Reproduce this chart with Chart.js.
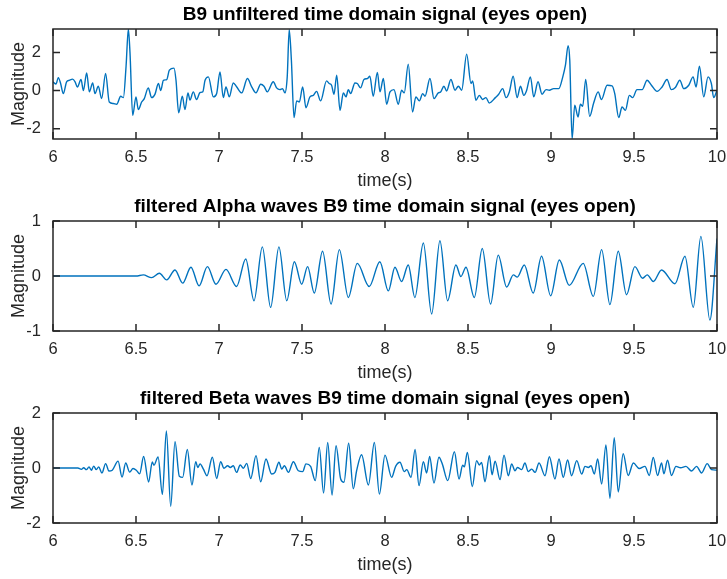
<!DOCTYPE html>
<html>
<head>
<meta charset="utf-8">
<script src="https://cdn.jsdelivr.net/npm/chart.js@4.4.1/dist/chart.umd.min.js"></script>
<style>
  body { margin: 0; background: #fff; }
  #wrap { position: relative; width: 727px; height: 579px; }
  canvas { position: absolute; left: 0; }
</style>
</head>
<body>
<div id="wrap">
  <canvas id="c1" width="727" height="192" style="top:1px"></canvas>
  <canvas id="c2" width="727" height="192" style="top:193px"></canvas>
  <canvas id="c3" width="727" height="192" style="top:385px"></canvas>
</div>
<script>
// tick labels
const xTicks = [6, 6.5, 7, 7.5, 8, 8.5, 9, 9.5, 10];
const yTicksRaw = [-2, 0, 2];
const yTicksAlpha = [-1, 0, 1];
const yTicksBeta = [-2, 0, 2];

const titles = [
  'B9 unfiltered time domain signal (eyes open)',
  'filtered Alpha waves B9 time domain signal (eyes open)',
  'filtered Beta waves B9 time domain signal (eyes open)'
];

// unfiltered signal (peaks / troughs)
const rawTime = [6.000, 6.018, 6.032, 6.046, 6.062, 6.082, 6.098, 6.118, 6.133, 6.147, 6.169, 6.183, 6.203, 6.219, 6.239, 6.253,
  6.273, 6.293, 6.317, 6.339, 6.363, 6.384, 6.408, 6.424, 6.440, 6.454, 6.464, 6.480, 6.500, 6.514, 6.534, 6.550,
  6.574, 6.594, 6.614, 6.635, 6.649, 6.665, 6.685, 6.701, 6.729, 6.741, 6.757, 6.779, 6.795, 6.813, 6.825, 6.845,
  6.865, 6.886, 6.902, 6.916, 6.936, 6.966, 6.986, 7.006, 7.026, 7.042, 7.062, 7.086, 7.106, 7.137, 7.171, 7.197,
  7.223, 7.251, 7.271, 7.291, 7.327, 7.347, 7.367, 7.383, 7.397, 7.411, 7.423, 7.436, 7.452, 7.468, 7.484, 7.504,
  7.524, 7.548, 7.568, 7.588, 7.612, 7.648, 7.664, 7.678, 7.693, 7.709, 7.729, 7.749, 7.765, 7.779, 7.793, 7.819,
  7.833, 7.853, 7.873, 7.893, 7.909, 7.929, 7.954, 7.970, 7.990, 8.010, 8.030, 8.054, 8.080, 8.100, 8.116, 8.140,
  8.166, 8.186, 8.207, 8.227, 8.241, 8.271, 8.295, 8.321, 8.335, 8.355, 8.371, 8.397, 8.422, 8.442, 8.462, 8.492,
  8.518, 8.528, 8.548, 8.568, 8.588, 8.608, 8.628, 8.665, 8.685, 8.709, 8.729, 8.749, 8.772, 8.796, 8.816, 8.836,
  8.852, 8.876, 8.896, 8.922, 8.946, 8.970, 8.990, 9.016, 9.047, 9.071, 9.087, 9.103, 9.113, 9.127, 9.143, 9.163,
  9.177, 9.191, 9.209, 9.233, 9.257, 9.284, 9.304, 9.338, 9.368, 9.384, 9.408, 9.428, 9.448, 9.472, 9.492, 9.518,
  9.549, 9.579, 9.605, 9.639, 9.669, 9.699, 9.725, 9.749, 9.776, 9.800, 9.830, 9.856, 9.874, 9.894, 9.920, 9.946,
  9.966, 9.980, 10.000];
const rawMag = [0.46, 0.34, 0.68, 0.37, -0.16, 0.46, 0.54, 0.60, 0.46, 0.19, 0.58, 0.00, 0.93, -0.07, 0.40, -0.16,
  0.23, -0.42, 0.90, -0.60, -0.68, -0.72, -0.30, -0.37, 1.25, 3.23, 1.95, -1.30, -0.33, -1.00, -0.60, -0.42,
  0.14, -0.37, -0.20, 0.37, 0.00, 0.54, 0.58, 1.07, 1.18, 0.54, -1.17, -0.30, -1.00, -0.12, -0.50, -0.07,
  -0.47, -0.10, -0.07, 0.54, 0.72, -0.33, -0.15, 0.98, -0.37, 0.19, -0.33, 0.40, 0.20, -0.12, 0.63, 0.20,
  -0.12, 0.33, 0.23, -0.07, 0.46, 0.14, 0.05, 0.10, -0.12, 0.72, 3.20, 1.60, -1.42, -0.54, -0.60, 0.19,
  -0.90, -0.33, -0.25, -0.04, -0.54, 0.51, 0.37, 0.28, -0.19, 0.81, -1.04, -0.12, -0.33, 0.05, -0.16, 0.40,
  0.37, 0.14, 0.58, 0.63, 0.75, -0.30, 0.95, -0.07, 0.63, -0.72, -0.07, 0.05, -0.72, 0.02, -0.12, 1.39,
  -1.12, -0.33, -0.54, -0.16, -0.30, 0.63, -0.42, -0.12, -0.07, 0.23, -0.02, 0.58, 0.02, 0.23, 0.02, 1.91,
  0.37, 0.51, -0.51, -0.25, -0.47, -0.37, -0.65, -0.37, -0.19, 0.10, -0.37, -0.07, 0.75, -0.37, 0.23, -0.25,
  -0.02, 0.72, -0.33, 0.46, -0.19, 0.05, 0.02, 0.10, 0.10, 0.72, 1.33, 2.35, 1.60, -2.54, -0.77, -1.39,
  -0.72, -0.82, 0.58, -1.35, -0.65, -0.07, -0.47, 0.28, 0.25, -0.16, -1.42, -0.86, -1.04, -0.25, -0.37, 0.05,
  0.05, 0.54, 0.28, -0.04, 0.19, 0.58, 0.05, 0.16, 0.54, 0.10, 0.28, 0.72, 0.19, 1.28, -0.33, 0.72,
  0.37, -0.37, 0.02];

// alpha band
const alphaTime = [6.000, 6.500, 6.544, 6.594, 6.641, 6.685, 6.735, 6.781, 6.831, 6.880, 6.930, 6.982, 7.042, 7.106, 7.161, 7.211,
  7.261, 7.311, 7.361, 7.408, 7.454, 7.498, 7.534, 7.574, 7.624, 7.675, 7.725, 7.779, 7.833, 7.905, 7.969, 8.020,
  8.060, 8.100, 8.140, 8.180, 8.231, 8.281, 8.331, 8.377, 8.427, 8.457, 8.488, 8.538, 8.586, 8.636, 8.682, 8.733,
  8.773, 8.797, 8.839, 8.893, 8.943, 8.998, 9.050, 9.110, 9.194, 9.255, 9.305, 9.355, 9.405, 9.455, 9.505, 9.552,
  9.580, 9.616, 9.666, 9.747, 9.807, 9.857, 9.903, 9.957, 10.000];
const alphaMag = [0, 0, 0.02, -0.03, 0.05, -0.07, 0.11, -0.13, 0.16, -0.18, 0.17, -0.15, 0.12, -0.19, 0.31, -0.45,
  0.53, -0.57, 0.53, -0.45, 0.26, -0.15, 0.17, -0.31, 0.45, -0.51, 0.48, -0.39, 0.23, -0.19, 0.26, -0.27,
  0.16, -0.10, 0.20, -0.39, 0.60, -0.69, 0.64, -0.45, 0.20, -0.01, 0.16, -0.39, 0.50, -0.51, 0.38, -0.20,
  0.02, -0.02, 0.20, -0.31, 0.36, -0.36, 0.29, -0.17, 0.23, -0.37, 0.48, -0.52, 0.45, -0.34, 0.17, -0.04,
  0.02, -0.10, 0.11, -0.14, 0.36, -0.57, 0.72, -0.80, 0.68];

// beta band
const betaTime = [6.000, 6.150, 6.171, 6.185, 6.201, 6.217, 6.231, 6.245,
  6.261, 6.275, 6.295, 6.317, 6.337, 6.357, 6.392, 6.416,
  6.438, 6.462, 6.482, 6.502, 6.522, 6.546, 6.576, 6.598,
  6.608, 6.633, 6.659, 6.683, 6.709, 6.735, 6.761, 6.781,
  6.809, 6.837, 6.860, 6.872, 6.886, 6.906, 6.928, 6.960,
  6.986, 7.010, 7.030, 7.052, 7.068, 7.086, 7.106, 7.128,
  7.147, 7.167, 7.191, 7.223, 7.251, 7.283, 7.317, 7.337,
  7.361, 7.378, 7.394, 7.418, 7.448, 7.478, 7.504, 7.524,
  7.552, 7.580, 7.604, 7.630, 7.655, 7.681, 7.705, 7.733,
  7.753, 7.781, 7.809, 7.829, 7.859, 7.900, 7.936, 7.966,
  8.000, 8.040, 8.064, 8.090, 8.116, 8.131, 8.157, 8.181,
  8.205, 8.231, 8.251, 8.269, 8.295, 8.325, 8.345, 8.378,
  8.418, 8.446, 8.468, 8.478, 8.496, 8.526, 8.552, 8.568,
  8.582, 8.602, 8.629, 8.645, 8.663, 8.693, 8.717, 8.743,
  8.763, 8.783, 8.798, 8.823, 8.843, 8.863, 8.884, 8.904,
  8.928, 8.964, 8.990, 9.024, 9.048, 9.074, 9.100, 9.124,
  9.155, 9.185, 9.205, 9.225, 9.241, 9.261, 9.281, 9.305,
  9.331, 9.355, 9.381, 9.405, 9.435, 9.465, 9.496, 9.532,
  9.566, 9.592, 9.616, 9.642, 9.666, 9.680, 9.702, 9.726,
  9.753, 9.781, 9.813, 9.847, 9.877, 9.907, 9.941, 9.967,
  10.000];
const betaMag = [0, 0, -0.05, 0.01, -0.06, 0.04, -0.08, 0.07,
  -0.06, 0.04, -0.18, 0.16, -0.11, -0.08, 0.25, -0.33,
  0.18, -0.15, -0.02, -0.08, -0.21, 0.42, -0.51, 0.22,
  0.10, 0.40, -0.96, 1.35, -1.39, 0.96, -0.30, -0.34,
  0.67, -0.62, 0.23, 0.02, 0.15, -0.04, -0.28, 0.39,
  -0.38, 0.23, -0.01, 0.08, 0.02, 0.08, -0.16, 0.11,
  -0.01, 0.17, -0.38, 0.45, -0.50, 0.33, -0.22, -0.16,
  0.21, -0.04, 0.08, -0.16, 0.23, -0.10, -0.13, 0.15,
  0.06, -0.46, 0.75, -0.91, 0.93, -0.98, 0.81, -0.40,
  -0.52, 0.90, -0.76, -0.10, 0.48, -0.62, 0.93, -0.95,
  0.47, -0.34, 0.06, 0.21, -0.13, -0.06, -0.34, 0.67,
  -0.64, 0.23, -0.18, 0.42, -0.55, 0.39, 0.15, -0.46,
  0.59, -0.40, 0.10, 0.04, 0.57, -0.67, 0.27, 0.11,
  0.20, -0.50, 0.45, -0.25, 0.25, -0.42, 0.47, -0.28,
  0.15, -0.10, 0.02, -0.06, 0.18, -0.13, -0.04, -0.16,
  0.18, -0.28, 0.41, -0.40, 0.33, -0.34, 0.29, -0.28,
  0.27, -0.22, 0.06, 0.02, 0.08, -0.22, 0.33, -0.58,
  0.84, -1.10, 1.10, -0.87, 0.52, -0.27, 0.18, -0.02,
  0.06, -0.27, 0.38, -0.27, 0.18, -0.21, 0.28, -0.27,
  0.06, 0.01, 0.06, -0.11, 0.06, -0.18, 0.16, -0.06,
  -0.08];

const FONT = "'Liberation Sans', Arial, Helvetica, sans-serif";
const AXIS = '#262626';
Chart.defaults.font.family = FONT;

// matlab style box with inward ticks on all four sides
const matlabBox = {
  id: 'matlabBox',
  afterDatasetsDraw(chart) {
    const { ctx, chartArea: a, scales: { x, y } } = chart;
    ctx.save();
    ctx.strokeStyle = AXIS;
    ctx.lineWidth = 1.5;
    ctx.beginPath();
    x.ticks.forEach(t => {
      const px = x.getPixelForValue(t.value);
      ctx.moveTo(px, a.bottom); ctx.lineTo(px, a.bottom - 7);
      ctx.moveTo(px, a.top); ctx.lineTo(px, a.top + 7);
    });
    y.ticks.forEach(t => {
      const py = y.getPixelForValue(t.value);
      ctx.moveTo(a.left, py); ctx.lineTo(a.left + 7, py);
      ctx.moveTo(a.right, py); ctx.lineTo(a.right - 7, py);
    });
    ctx.stroke();
    ctx.strokeRect(a.left, a.top, a.right - a.left, a.bottom - a.top);
    ctx.restore();
  }
};

function makeChart(id, title, time, mag, yMin, yMax, yTicks) {
  return new Chart(document.getElementById(id), {
    type: 'line',
    data: {
      datasets: [{
        data: time.map((t, i) => ({ x: t, y: mag[i] })),
        borderColor: '#0072BD',
        borderWidth: 1.4,
        pointRadius: 0,
        cubicInterpolationMode: 'monotone'
      }]
    },
    options: {
      responsive: false,
      animation: false,
      events: [],
      layout: { padding: { left: 0, right: 10, top: 0, bottom: 0 } },
      plugins: {
        legend: { display: false },
        tooltip: { enabled: false },
        title: {
          display: true,
          text: title,
          fullSize: false,
          color: '#000',
          font: { size: 19, weight: 'bold', lineHeight: '20px' },
          padding: { top: 4, bottom: 4 }
        }
      },
      scales: {
        x: {
          type: 'linear',
          min: 6,
          max: 10,
          afterBuildTicks: s => { s.ticks = xTicks.map(v => ({ value: v })); },
          afterFit: s => { s.height = 54; s.paddingLeft = 0; s.paddingRight = 0; },
          grid: { display: false },
          border: { display: false },
          ticks: {
            color: AXIS, padding: 1, maxRotation: 0, autoSkip: false,
            font: { size: 16.5, lineHeight: '18px' },
            callback: v => String(v)
          },
          title: {
            display: true, text: 'time(s)', color: AXIS,
            font: { size: 18, lineHeight: '20px' },
            padding: { top: 0, bottom: 2 }
          }
        },
        y: {
          min: yMin,
          max: yMax,
          afterBuildTicks: s => { s.ticks = yTicks.map(v => ({ value: v })); },
          afterFit: s => { s.width = 53; s.paddingTop = 0; s.paddingBottom = 0; },
          grid: { display: false },
          border: { display: false },
          ticks: {
            color: AXIS, padding: 4,
            font: { size: 16.5, lineHeight: '18px' },
            callback: v => String(v)
          },
          title: {
            display: true, text: 'Magnitude', color: AXIS,
            font: { size: 18, lineHeight: '20px' },
            padding: { top: 9, bottom: 0 }
          }
        }
      }
    },
    plugins: [matlabBox]
  });
}

makeChart('c1', titles[0], rawTime, rawMag, -2.54, 3.23, yTicksRaw);
makeChart('c2', titles[1], alphaTime, alphaMag, -1, 1, yTicksAlpha);
makeChart('c3', titles[2], betaTime, betaMag, -2, 2, yTicksBeta);
</script>
</body>
</html>
